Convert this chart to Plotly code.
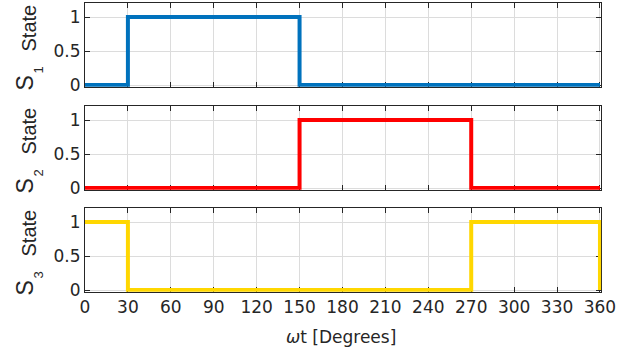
import plotly.graph_objects as go

# Switching states vs. electrical angle (degrees)
s1_x = [0, 30, 150, 360]
s1_y = [0, 1, 0, 0]
s2_x = [0, 150, 270, 360]
s2_y = [0, 1, 0, 0]
s3_x = [0, 30, 270, 360, 360]
s3_y = [1, 0, 1, 1, 0]

x_ticks = list(range(0, 361, 30))
y_ticks = [0, 0.5, 1]
y_ticktext = ["0", "0.5", "1"]
label_subs = ["1", "2", "3"]
colors = ["#0072BD", "#FF0000", "#FFD700"]

series = [(s1_x, s1_y), (s2_x, s2_y), (s3_x, s3_y)]

W, H = 630, 356
TICKFONT = "DejaVu Sans, Verdana, sans-serif"
LABFONT = "Liberation Sans, Arial, Helvetica, sans-serif"
TXT = "#262626"


def px_x(p):
    return p / W


def px_y(p):
    return 1 - p / H


xd = [px_x(85), px_x(601.1)]
ydoms = [
    [px_y(86.7), px_y(3.4)],
    [px_y(189.7), px_y(106.4)],
    [px_y(291.7), px_y(208.4)],
]
panel_shift = [0, 103, 205]

fig = go.Figure()
layout = dict(
    width=W, height=H,
    margin=dict(l=0, r=0, t=0, b=0, autoexpand=False),
    paper_bgcolor="white", plot_bgcolor="white",
    showlegend=False,
    font=dict(family=TICKFONT, size=17, color=TXT),
)

for i, ((xs, ys), c) in enumerate(zip(series, colors)):
    n = "" if i == 0 else str(i + 1)
    fig.add_trace(go.Scatter(
        x=xs, y=ys, mode="lines", line=dict(color=c, width=4, shape="hv"),
        xaxis="x" + n, yaxis="y" + n, hoverinfo="skip",
    ))
    common = dict(
        ticks="inside", ticklen=5, tickcolor=TXT, tickwidth=1,
        showline=True, linecolor=TXT, linewidth=1, mirror="ticks",
        showgrid=True, gridcolor="#dcdcdc", gridwidth=1,
        zeroline=False, layer="below traces", automargin=False,
        tickfont=dict(family=TICKFONT, size=17, color=TXT),
    )
    layout["xaxis" + n] = dict(
        domain=xd, range=[0, 360.8], anchor="y" + n,
        tickvals=x_ticks, ticktext=[str(v) for v in x_ticks],
        showticklabels=(i == 2), **common,
    )
    layout["yaxis" + n] = dict(
        domain=ydoms[i], range=[-0.025, 1.2], anchor="x" + n,
        tickvals=y_ticks, ticktext=y_ticktext, **common,
    )

fig.update_layout(**layout)

annotations = []
for i, sub in enumerate(label_subs):
    dy = panel_shift[i]
    # y-axis label "S_n State" built from three rotated pieces
    for txt, size, xp, yp in (("S", 23, 24.0, 83.5),
                              (sub, 13, 37.5, 70.0),
                              ("State", 20, 28.0, 28.5)):
        annotations.append(dict(
            text=txt, textangle=-90,
            xref="paper", yref="paper", x=px_x(xp), y=px_y(yp + dy),
            showarrow=False, xanchor="center", yanchor="middle",
            font=dict(family=LABFONT, size=size, color=TXT),
        ))
annotations.append(dict(
    text="<i>ω</i>t [Degrees]", xref="paper", yref="paper",
    x=px_x(341), y=px_y(337), showarrow=False,
    xanchor="center", yanchor="middle",
    font=dict(family=TICKFONT, size=17, color=TXT),
))
fig.update_layout(annotations=annotations)

fig.write_html("out.html")
